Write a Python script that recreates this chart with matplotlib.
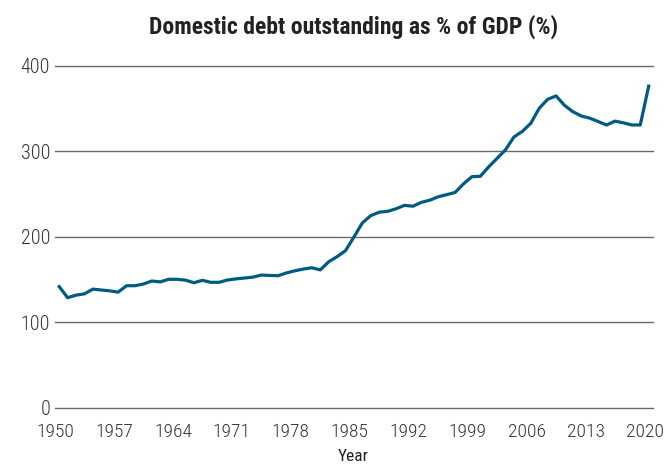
import datetime as dt
import matplotlib
matplotlib.use("Agg")
import matplotlib.pyplot as plt
import matplotlib.dates as mdates
from matplotlib import font_manager

# 설치된 폰트 중 condensed 우선
names = {f.name for f in font_manager.fontManager.ttflist}
FAMILY = "Roboto Condensed" if "Roboto Condensed" in names else "Roboto"
plt.rcParams["font.family"] = [FAMILY, "DejaVu Sans"]

YEARS = list(range(1950, 2021))
DEBT_PCT = [
    142, 129, 132, 133.5, 139, 138, 137, 135.5, 143, 143,
    145, 148.5, 147.5, 150.5, 150.5, 149.5, 146.5, 149.3, 147, 147,
    149.7, 151, 152, 153, 155.5, 155, 154.7, 158, 160.5, 162.5,
    164, 161.5, 171, 177, 184, 200, 216.5, 225, 229, 230,
    233, 237, 236, 240.5, 243, 247, 249.5, 252, 262, 270.5,
    271, 282, 292, 302, 317, 323.5, 333, 350.5, 361, 365,
    354, 346.5, 341.5, 339, 335, 331, 335.5, 333.5, 331, 331,
    376.5,
]
TICK_YEARS = [1950, 1957, 1964, 1971, 1978, 1985, 1992, 1999, 2006, 2013, 2020]
Y_TICKS = [0, 100, 200, 300, 400]

TITLE = "Domestic debt outstanding as % of GDP (%)"
LINE_COLOR = "#005a82"

# 연도별 값은 연중(7월 1일)에 찍힘
dates = [dt.date(y, 7, 1) for y in YEARS]

fig = plt.figure(figsize=(6.66, 4.65), dpi=100)
ax = fig.add_axes([0.0826, 0.1226, 0.8978, 0.7355])

ax.plot(dates, DEBT_PCT, color=LINE_COLOR, lw=2.3, solid_joinstyle="round")

ax.set_xlim(dt.date(1950, 1, 1), dt.date(2021, 1, 1))
ax.set_ylim(0, 400)
ax.set_xticks([dt.date(y, 1, 1) for y in TICK_YEARS])
ax.xaxis.set_major_formatter(mdates.DateFormatter("%Y"))
ax.set_yticks(Y_TICKS)

ax.grid(axis="y", color="#6a6a6a", lw=1.0)
for gl in ax.get_ygridlines():
    gl.set_clip_on(False)
ax.set_axisbelow(True)
for s in ax.spines.values():
    s.set_visible(False)
ax.tick_params(axis="both", length=0, labelsize=14.5, labelcolor="#333333")
ax.tick_params(axis="y", labelsize=14.5)
ax.tick_params(axis="x", labelsize=14, pad=11)
for lbl in ax.get_xticklabels() + ax.get_yticklabels():
    lbl.set_fontweight("light")

# 원본은 아래쪽이 살짝 잘려 있음 -> 전부 보이도록 맨 아래에 붙임
fig.text(0.531, 0.002, "Year", ha="center", va="bottom",
         fontsize=12.5, color="#222222")
fig.text(0.531, 0.942, TITLE, ha="center", va="center",
         fontsize=17, fontweight="bold", color="#222222")

fig.savefig("out.png", dpi=100)
